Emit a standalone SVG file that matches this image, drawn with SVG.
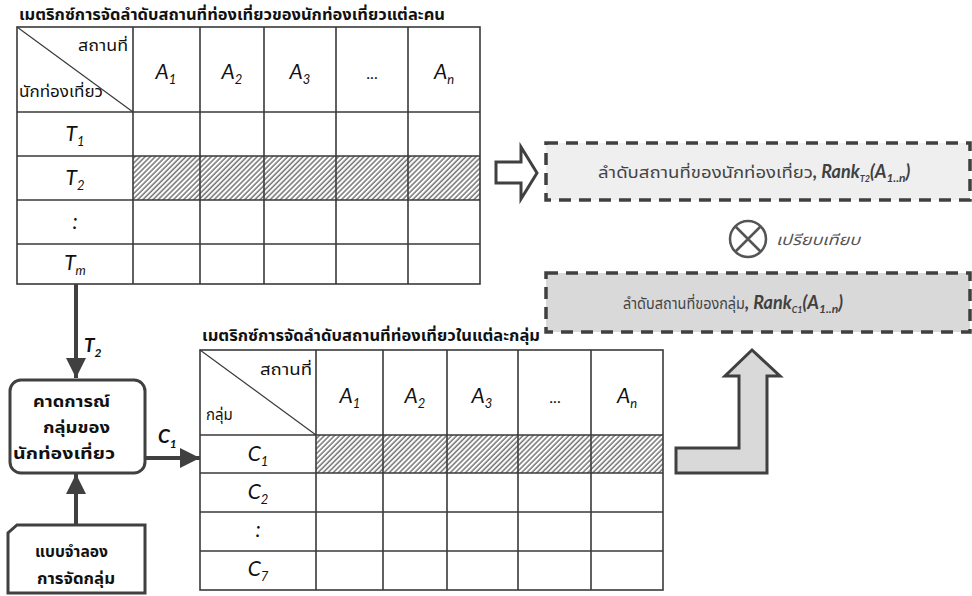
<svg xmlns="http://www.w3.org/2000/svg" width="972" height="596" viewBox="0 0 972 596">
<defs>
<pattern id="hatch" patternUnits="userSpaceOnUse" width="3.6" height="3.6" patternTransform="rotate(45)">
<rect width="3.6" height="3.6" fill="#ffffff"/>
<line x1="1" y1="0" x2="1" y2="3.6" stroke="#2e2e2e" stroke-width="1"/>
</pattern>
<marker id="ah" viewBox="0 0 10 10" refX="10" refY="5" markerWidth="5" markerHeight="5" orient="auto" markerUnits="strokeWidth">
<path d="M0,0 L10,5 L0,10 Z" fill="#404040"/>
</marker>
<style>
.th{font-family:"Noto Sans Thai","Noto Sans","DejaVu Sans",sans-serif;fill:#111}
.tb{font-weight:bold}
.it{font-family:Lato,"Open Sans","Liberation Sans",sans-serif;font-style:italic;fill:#111}
.grid{stroke:#3a3a3a;stroke-width:1.6;fill:none}
.conn{stroke:#404040;stroke-width:4;fill:none}
.box{stroke:#404040;stroke-width:3;fill:#ffffff}
.dash{stroke:#404040;stroke-width:3.5;stroke-dasharray:12,8}
.gt{font-family:"Noto Sans Thai","Noto Sans","DejaVu Sans",sans-serif;fill:#444;font-size:15px}
.rk{font-family:Lato,"Open Sans","Liberation Sans",sans-serif;font-style:italic;font-weight:bold;fill:#404040}
</style>
</defs>

<g id="matrix-tourist">
<text class="th tb" x="19" y="20" font-size="15" textLength="426" lengthAdjust="spacingAndGlyphs">เมตริกซ์การจัดลำดับสถานที่ท่องเที่ยวของนักท่องเที่ยวแต่ละคน</text>
<rect x="133" y="156" width="347" height="44" fill="url(#hatch)"/>
<rect class="grid" x="17" y="27" width="463" height="257"/>
<path class="grid" d="M17,112H480M17,156H480M17,200H480M17,244H480M133,27V284M200,27V284M264,27V284M336,27V284M408,27V284"/>
<line x1="17" y1="27" x2="133" y2="112" stroke="#3a3a3a" stroke-width="1.2"/>
<text class="th" x="78" y="51" font-size="15" textLength="50" lengthAdjust="spacingAndGlyphs">สถานที่</text>
<text class="th" x="19" y="97" font-size="15" textLength="84" lengthAdjust="spacingAndGlyphs">นักท่องเที่ยว</text>
<g class="it" font-size="21" text-anchor="middle">
<text x="166" y="79">A<tspan font-size="13" dy="5">1</tspan></text>
<text x="232" y="79">A<tspan font-size="13" dy="5">2</tspan></text>
<text x="300" y="79">A<tspan font-size="13" dy="5">3</tspan></text>
<text x="372" y="79" font-style="normal" font-size="16">...</text>
<text x="444" y="79">A<tspan font-size="13" dy="5">n</tspan></text>
<text x="75" y="141">T<tspan font-size="13" dy="5">1</tspan></text>
<text x="75" y="185">T<tspan font-size="13" dy="5">2</tspan></text>
<text x="75" y="229">:</text>
<text x="75" y="270">T<tspan font-size="13" dy="5">m</tspan></text>
</g>
</g>

<g id="predict">
<rect class="box" x="10" y="380" width="135" height="93" rx="11"/>
<g class="th tb" font-size="16">
<text x="33" y="407" textLength="77" lengthAdjust="spacingAndGlyphs">คาดการณ์</text>
<text x="43" y="433" textLength="67" lengthAdjust="spacingAndGlyphs">กลุ่มของ</text>
<text x="13" y="459" textLength="102" lengthAdjust="spacingAndGlyphs">นักท่องเที่ยว</text>
</g>
</g>

<g id="model">
<path class="box" d="M17,525H145V593H8V533Z"/>
<g class="th tb" font-size="16">
<text x="35" y="557" textLength="73" lengthAdjust="spacingAndGlyphs">แบบจำลอง</text>
<text x="37" y="584" textLength="78" lengthAdjust="spacingAndGlyphs">การจัดกลุ่ม</text>
</g>
</g>

<g id="matrix-group">
<text class="th tb" x="202" y="341" font-size="15" textLength="338" lengthAdjust="spacingAndGlyphs">เมตริกซ์การจัดลำดับสถานที่ท่องเที่ยวในแต่ละกลุ่ม</text>
<rect x="316" y="435" width="347" height="38" fill="url(#hatch)"/>
<rect class="grid" x="200" y="350" width="463" height="240"/>
<path class="grid" d="M200,435H663M200,473H663M200,512H663M200,551H663M316,350V590M383,350V590M447,350V590M518,350V590M591,350V590"/>
<line x1="200" y1="350" x2="316" y2="435" stroke="#3a3a3a" stroke-width="1.2"/>
<text class="th" x="260" y="375" font-size="15" textLength="52" lengthAdjust="spacingAndGlyphs">สถานที่</text>
<text class="th" x="206" y="420" font-size="15">กลุ่ม</text>
<g class="it" font-size="21" text-anchor="middle">
<text x="350" y="403">A<tspan font-size="13" dy="5">1</tspan></text>
<text x="415" y="403">A<tspan font-size="13" dy="5">2</tspan></text>
<text x="482" y="403">A<tspan font-size="13" dy="5">3</tspan></text>
<text x="555" y="403" font-style="normal" font-size="16">...</text>
<text x="627" y="403">A<tspan font-size="13" dy="5">n</tspan></text>
<text x="258" y="461">C<tspan font-size="13" dy="5">1</tspan></text>
<text x="258" y="499">C<tspan font-size="13" dy="5">2</tspan></text>
<text x="258" y="537">:</text>
<text x="258" y="576">C<tspan font-size="13" dy="5">7</tspan></text>
</g>
</g>

<g id="rank-tourist">
<rect class="dash" x="546" y="143" width="424" height="57" fill="#efefef"/>
<text class="gt" x="598" y="178" textLength="215" lengthAdjust="spacingAndGlyphs">ลำดับสถานที่ของนักท่องเที่ยว</text>
<text x="813" y="178"><tspan class="rk" font-size="18">, Rank</tspan><tspan class="rk" font-size="9" font-weight="normal" dy="4">T2</tspan><tspan class="rk" font-size="18" dy="-4">(A</tspan><tspan class="rk" font-size="12" dy="4">1..n</tspan><tspan class="rk" font-size="18" dy="-4">)</tspan></text>
</g>

<g id="compare">
<circle cx="748" cy="239" r="18" fill="#ffffff" stroke="#555" stroke-width="2.5"/>
<path d="M735,226L761,252M761,226L735,252" stroke="#555" stroke-width="2.5"/>
<text class="th" x="776" y="245" font-size="15" font-style="italic" style="fill:#555" textLength="84" lengthAdjust="spacingAndGlyphs">เปรียบเทียบ</text>
</g>

<g id="rank-group">
<rect class="dash" x="546" y="273" width="424" height="59" fill="#d9d9d9"/>
<text class="gt" x="623" y="309" textLength="122" lengthAdjust="spacingAndGlyphs">ลำดับสถานที่ของกลุ่ม</text>
<text x="745" y="309"><tspan class="rk" font-size="18">, Rank</tspan><tspan class="rk" font-size="9" font-weight="normal" dy="4">C1</tspan><tspan class="rk" font-size="18" dy="-4">(A</tspan><tspan class="rk" font-size="12" dy="4">1..n</tspan><tspan class="rk" font-size="18" dy="-4">)</tspan></text>
</g>

<g id="connectors">
<line class="conn" x1="76" y1="284" x2="76" y2="378" marker-end="url(#ah)"/>
<text class="it" x="84" y="352" font-size="19" font-weight="bold">T<tspan font-size="12" dy="5">2</tspan></text>
<line class="conn" x1="76" y1="525" x2="76" y2="474" marker-end="url(#ah)"/>
<line class="conn" x1="145" y1="458" x2="200" y2="458" marker-end="url(#ah)"/>
<text class="it" x="158" y="443" font-size="19" font-weight="bold">C<tspan font-size="12" dy="5">1</tspan></text>
<path d="M496,162H521V147L537,173L521,199V183H496Z" fill="#ffffff" stroke="#404040" stroke-width="3" stroke-linejoin="miter"/>
<path d="M676,448H739V376H725L752,350L780,376H767V473H676Z" fill="#d9d9d9" stroke="#404040" stroke-width="3"/>
</g>
</svg>
